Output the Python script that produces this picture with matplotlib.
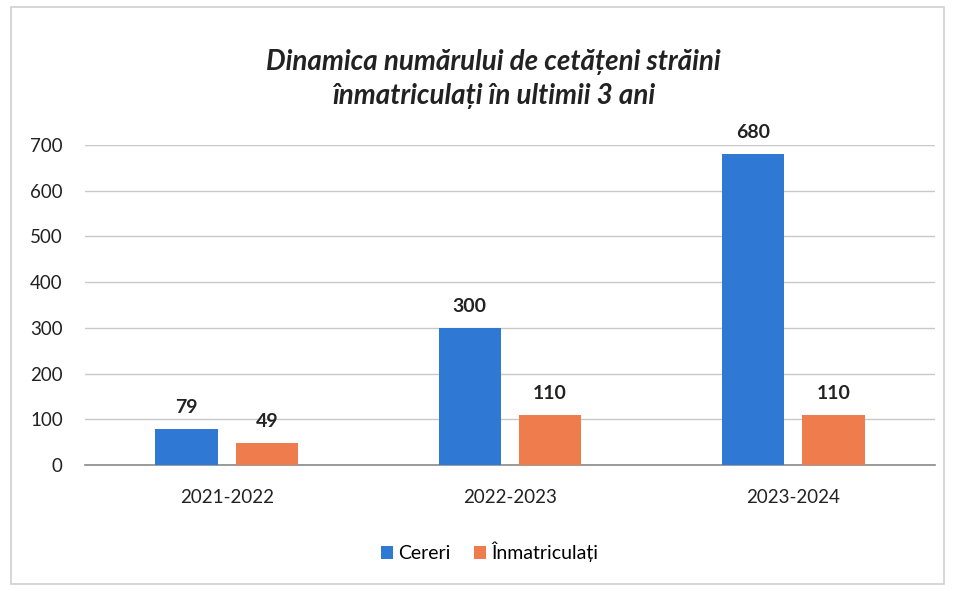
import numpy as np
import matplotlib.pyplot as plt
from matplotlib.patches import Rectangle

plt.rcParams['font.family'] = ['Lato', 'DejaVu Sans']

# date
years = ['2021-2022', '2022-2023', '2023-2024']
cereri = [79, 300, 680]
inmatriculati = [49, 110, 110]
yticks = [0, 100, 200, 300, 400, 500, 600, 700]

BLUE = '#2F78D4'
ORANGE = '#EE7C4C'

fig = plt.figure(figsize=(9.55, 5.91), dpi=100)
fig.patches.append(Rectangle((0.012, 0.012), 0.976, 0.976, transform=fig.transFigure,
                             fill=False, edgecolor='#cfcfcf', linewidth=1.2))

ax = fig.add_axes([0.089, 0.213, 0.890, 0.542])
x = np.arange(len(years))
w = 0.22
b1 = ax.bar(x - 0.142, cereri, w, color=BLUE, label='Cereri', zorder=3)
b2 = ax.bar(x + 0.142, inmatriculati, w, color=ORANGE, label='Înmatriculați', zorder=3)

for bars in (b1, b2):
    for r in bars:
        ax.annotate(str(int(r.get_height())), (r.get_x() + r.get_width() / 2, r.get_height()),
                    xytext=(0, 9), textcoords='offset points', ha='center', va='bottom',
                    fontsize=14, fontweight='bold', color='#222222')

ax.set_xlim(-0.5, 2.5)
ax.set_ylim(0, 700)
ax.set_yticks(yticks)
ax.set_xticks(x)
ax.set_xticklabels(years)
ax.tick_params(axis='both', length=0, labelsize=13.5, colors='#222222')
ax.tick_params(axis='x', pad=17)
ax.tick_params(axis='y', pad=16)
ax.yaxis.grid(True, color='#c8c8c8', linewidth=1, zorder=0)
for s in ['top', 'right', 'left']:
    ax.spines[s].set_visible(False)
ax.spines['bottom'].set_color('#8a8a8a')
ax.spines['bottom'].set_linewidth(1.2)

fig.text(0.517, 0.866, 'Dinamica numărului de cetățeni străini\nînmatriculați în ultimii 3 ani',
         ha='center', va='center', fontsize=20, fontweight='bold', style='italic',
         linespacing=1.4, color='#222222')

fig.legend(handles=[b1, b2], loc='center', bbox_to_anchor=(0.513, 0.066), ncol=2,
           frameon=False, fontsize=14, handlelength=0.6, handleheight=0.6,
           handletextpad=0.3, columnspacing=1.2)

fig.savefig('out.png', dpi=100)
